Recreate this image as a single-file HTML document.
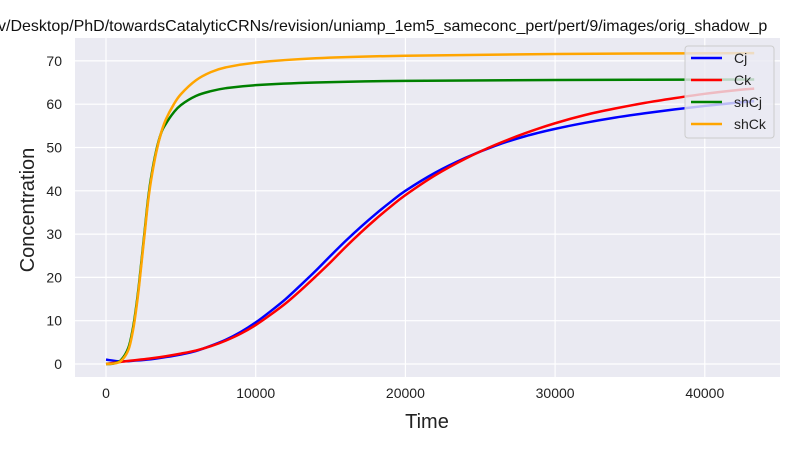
<!DOCTYPE html>
<html><head><meta charset="utf-8"><style>
body{margin:0;background:#fff;}
svg{display:block;font-family:"Liberation Sans","DejaVu Sans",sans-serif;}
</style></head><body>
<svg id="chart" width="800" height="450">
<text x="-2" y="31" font-size="16" fill="#111">v/Desktop/PhD/towardsCatalyticCRNs/revision/uniamp_1em5_sameconc_pert/pert/9/images/orig_shadow_p</text>
<rect x="75" y="38" width="705" height="339" fill="#eaeaf2"/>
<g id="grid"></g>
<g id="series"></g>
<text x="427" y="428" font-size="20" text-anchor="middle" fill="#222">Time</text>
<text transform="translate(34,210) rotate(-90)" font-size="20" text-anchor="middle" fill="#222">Concentration</text>
<g>
<rect x="685" y="46" width="89" height="92" rx="3" fill="#eaeaf2" fill-opacity="0.8" stroke="#ccc"/>
<g id="legend"></g>
</g>
</svg>
<script>
const xTicks=[0,10000,20000,30000,40000];
const yTicks=[0,10,20,30,40,50,60,70];
const tCj=[0,1000,2000,3000,4000,5000,6000,7000,8000,9000,10000,11000,12000,13000,14000,15000,16000,17000,18000,19000,20000,22000,24000,26000,28000,30000,32000,34000,36000,38000,40000,42000,43300];
const Cj=[1.0,0.6,0.8,1.1,1.6,2.2,3.0,4.2,5.6,7.4,9.6,12.2,15,18.2,21.5,25,28.4,31.6,34.6,37.4,40,44.2,47.6,50.4,52.6,54.3,55.7,56.9,57.9,58.8,59.6,60.3,60.7];
const Ck=[0,0.5,0.9,1.3,1.8,2.4,3.1,4.1,5.4,7,9,11.4,14,17,20.2,23.5,27,30.3,33.4,36.3,39,43.6,47.4,50.6,53.3,55.6,57.5,59,60.3,61.4,62.4,63.2,63.6];
const tSh=[0,500,1000,1500,1800,2000,2200,2400,2600,2800,3000,3350,3700,4000,4500,5000,6000,7000,8000,10000,14000,20000,30000,43300];
const shCj=[0,0.1,0.9,3.8,8.3,12.8,18.3,24.8,31.3,37.8,42.8,49.2,53.5,55.5,58,59.8,61.9,63,63.7,64.4,65,65.4,65.6,65.7];
const shCk=[0,0.1,0.7,3.3,7.7,12.2,17.7,24.2,30.7,37.2,42.2,48.8,53.6,56.5,59.8,62.3,65.5,67.4,68.5,69.6,70.6,71.2,71.6,71.8];
const seriesNames=["Cj","Ck","shCj","shCk"];
const colors=["blue","red","green","orange"];
const NS="http://www.w3.org/2000/svg";
const X=v=>106+v*0.01497;
const Y=v=>364-v*4.33;
const grid=document.getElementById('grid');
function mk(tag,attrs,parent){const e=document.createElementNS(NS,tag);for(const k in attrs)e.setAttribute(k,attrs[k]);parent.appendChild(e);return e;}
xTicks.forEach(t=>{
 const l=mk('line',{x1:X(t),x2:X(t),y1:38,y2:377,stroke:'#fff','stroke-width':1.2},grid);
 
 
 const tx=mk('text',{x:X(t),y:398,'font-size':14,'text-anchor':'middle',fill:'#222'},grid);
 tx.textContent=t;
 
 
});
yTicks.forEach(t=>{
 const l=mk('line',{x1:75,x2:780,y1:Y(t),y2:Y(t),stroke:'#fff','stroke-width':1.2},grid);
 
 
 const tx=mk('text',{x:62,y:Y(t)+5,'font-size':14,'text-anchor':'end',fill:'#222'},grid);
 tx.textContent=t;
 
 
});
function smoothPath(p){
 let d='M'+p[0][0]+','+p[0][1];
 for(let i=0;i<p.length-1;i++){
  const p0=p[Math.max(i-1,0)],p1=p[i],p2=p[i+1],p3=p[Math.min(i+2,p.length-1)];
  const c1x=p1[0]+(p2[0]-p0[0])/6,c1y=p1[1]+(p2[1]-p0[1])/6;
  const c2x=p2[0]-(p3[0]-p1[0])/6,c2y=p2[1]-(p3[1]-p1[1])/6;
  d+=' C'+c1x+','+c1y+' '+c2x+','+c2y+' '+p2[0]+','+p2[1];
 }
 return d;
}
const sg=document.getElementById('series');
const data=[[tCj,Cj],[tCj,Ck],[tSh,shCj],[tSh,shCk]];
data.forEach((d,i)=>{
 const pts=d[0].map((t,j)=>[X(t),Y(d[1][j])]);
 const p=mk('path',{d:smoothPath(pts),fill:'none',stroke:colors[i],'stroke-width':2.5,'stroke-linejoin':'round'},sg);
 
 
});
const lg=document.getElementById('legend');
seriesNames.forEach((n,i)=>{
 const y=58+i*22;
 const g=mk('g',{},lg);
 
 
 mk('line',{x1:691,x2:722,y1:y,y2:y,stroke:colors[i],'stroke-width':2.5},g);
 const t=mk('text',{x:734,y:y+5,'font-size':14,fill:'#222'},g);
 t.textContent=n;
});
</script>
</body></html>
